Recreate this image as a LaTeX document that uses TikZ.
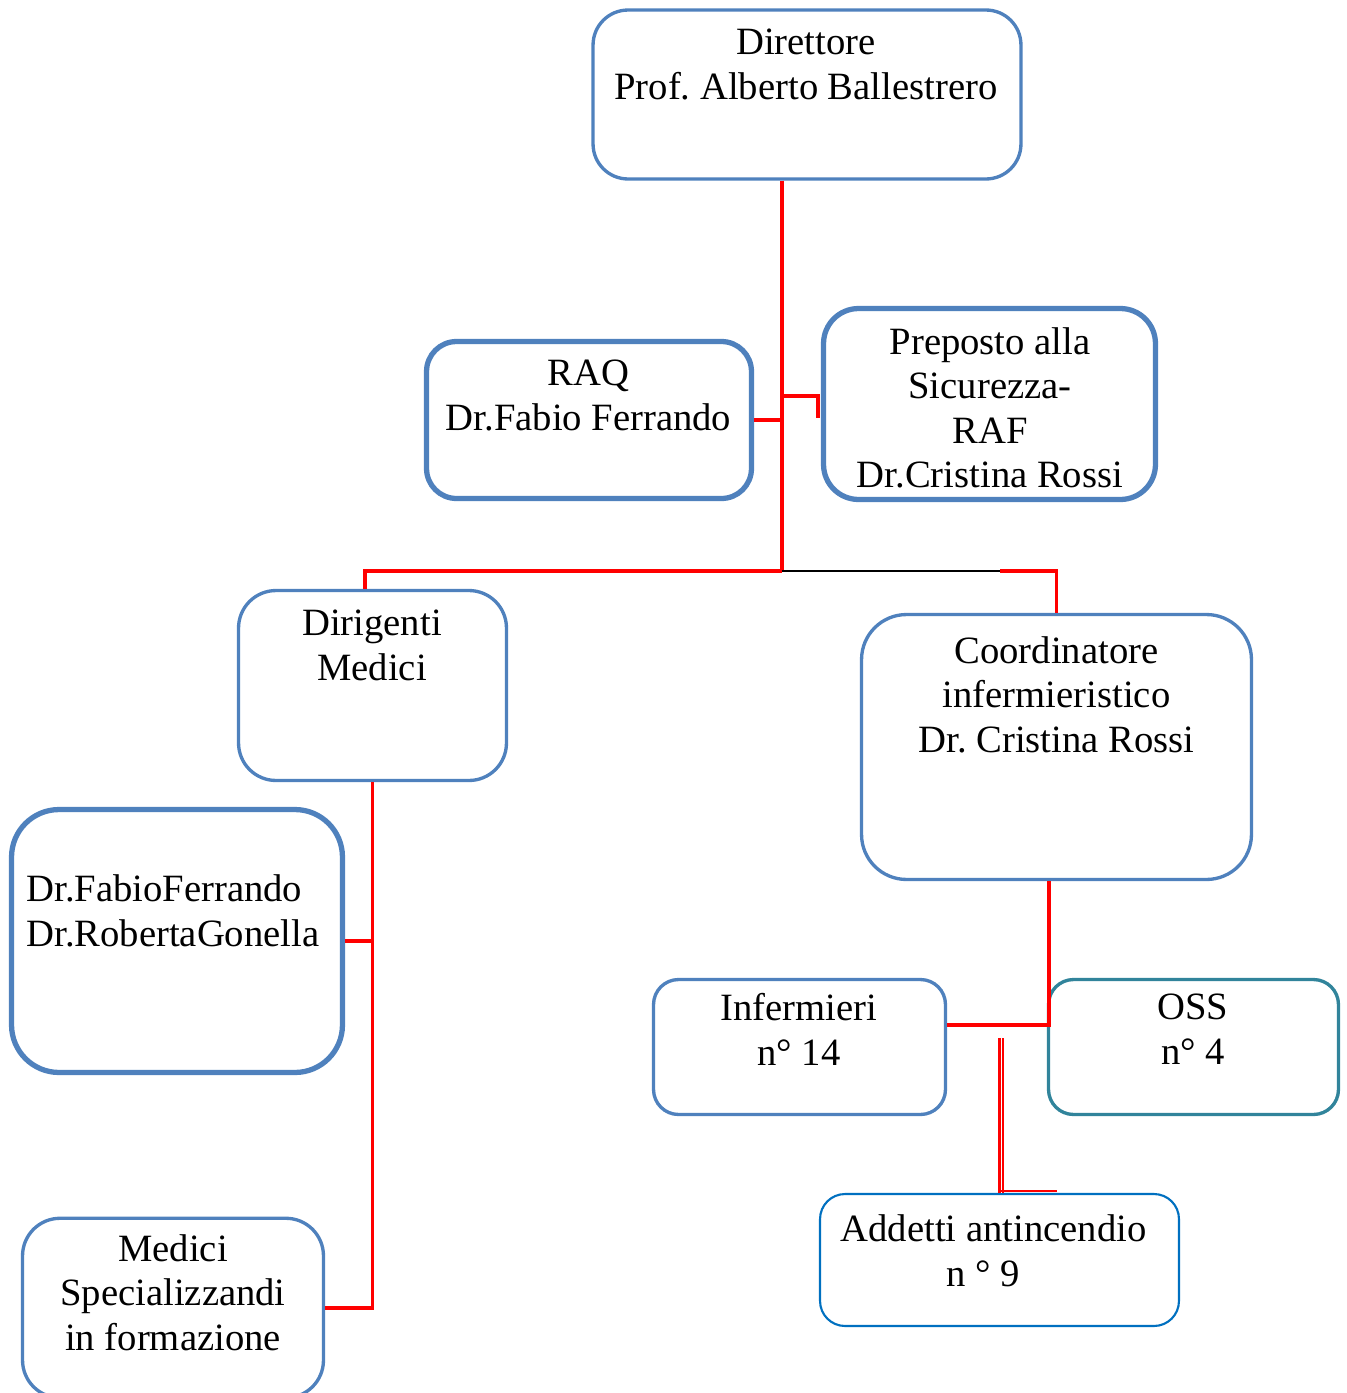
\documentclass[tikz,border=0pt]{standalone}
\usepackage{fontspec}
\setmainfont{Liberation Serif}
\usetikzlibrary{positioning}
\frenchspacing

\definecolor{boxblue}{HTML}{4F81BD}
\definecolor{boxteal}{HTML}{31849B}
\definecolor{boxazure}{HTML}{0070C0}

\tikzset{
  box/.style={draw=boxblue, line width=1.9pt, rounded corners=0.7cm, fill=white},
  boldbox/.style={box, line width=3pt},
  lbl/.style={align=center, inner sep=0pt, anchor=base, font=\fontsize{22}{25.3}\selectfont},
  link/.style={red, line width=2pt},
  dbllink/.style={red, line width=1.7pt, double=white, double distance=0.5pt},
}

\begin{document}
\begin{tikzpicture}[x=0.02cm, y=-0.02cm]
\useasboundingbox (0,0) rectangle (1346,1393);

% boxes
\node[box, minimum width=8.56cm, minimum height=3.38cm] (dir) at (807,94.5) {};
\node[boldbox, minimum width=6.5cm, minimum height=3.14cm, rounded corners=0.6cm] (raq) at (589,420) {};
\node[boldbox, minimum width=6.64cm, minimum height=3.82cm, rounded corners=0.7cm] (prep) at (989.5,404) {};
\node[box, minimum width=5.36cm, minimum height=3.8cm, rounded corners=0.75cm] (dirig) at (372.5,685.5) {};
\node[box, minimum width=7.8cm, minimum height=5.3cm, rounded corners=0.9cm] (coord) at (1056.5,747) {};
\node[boldbox, minimum width=6.62cm, minimum height=5.26cm, rounded corners=0.95cm] (ff) at (177,941) {};
\node[box, minimum width=6.02cm, minimum height=3.59cm, rounded corners=0.75cm] (spec) at (173,1308) {};
\node[box, minimum width=5.84cm, minimum height=2.7cm, rounded corners=0.5cm] (inf) at (799.5,1047) {};
\node[box, draw=boxteal, minimum width=5.8cm, minimum height=2.7cm, rounded corners=0.5cm] (oss) at (1193.5,1047) {};
\node[box, draw=boxazure, line width=1.2pt, minimum width=7.18cm, minimum height=2.64cm, rounded corners=0.5cm] (add) at (999.5,1260) {};

% texts (placed at the baseline of their last line)
\node[lbl] (dirT) at (806,99) {Direttore\\Prof. Alberto Ballestrero};
\node[lbl] (raqT) at (588.5,430) {RAQ\\Dr.Fabio Ferrando};
\node[lbl] (prepT) at (990,487.5) {Preposto alla\\Sicurezza-\\RAF\\Dr.Cristina Rossi};
\node[lbl] (dirigT) at (372,680) {Dirigenti\\Medici};
\node[lbl] (coordT) at (1056.5,752) {Coordinatore\\infermieristico\\Dr. Cristina Rossi};
\node[lbl, align=left, anchor=base west] (ffT) at (26,946) {Dr.FabioFerrando\\Dr.RobertaGonella};
\node[lbl] (specT) at (173,1350) {Medici\\Specializzandi\\in formazione};
\node[lbl] (infT) at (799,1065) {Infermieri\\n° 14};
\node[lbl] (ossT) at (1193,1064) {OSS\\n° 4};
\node[lbl] (addT) at (993.5,1286) {Addetti antincendio\\n ° 9\hspace*{0.42cm}};

% connectors
\coordinate (hub) at (782,571);
\coordinate (split) at (1000,571);
\coordinate (prepIn) at (818,418);
\coordinate (fireTop) at (1001,1038);
\draw[link] (hub |- dir.south) -- (hub);
\draw[link] (raq.east) -- (raq.east -| hub);
\draw[link] (hub |- 0,396) -| (prepIn);
\draw[link] (hub) -| (dirig.north -| 365,0);
\draw[black, line width=0.85pt] (hub) -- (split);
\draw[link] (split) -| (coord.north);
\draw[link] (dirig.south) |- (spec.east);
\draw[link] (ff.east) -- (ff.east -| dirig.south);
\draw[link] (coord.south -| 1049,0) |- (inf.east |- 0,1025);
\draw[dbllink] (fireTop) -- (add.north -| fireTop);
\draw[link, line width=1pt] ([yshift=1pt]add.north -| fireTop) -- ++(56,0);
\end{tikzpicture}
\end{document}
